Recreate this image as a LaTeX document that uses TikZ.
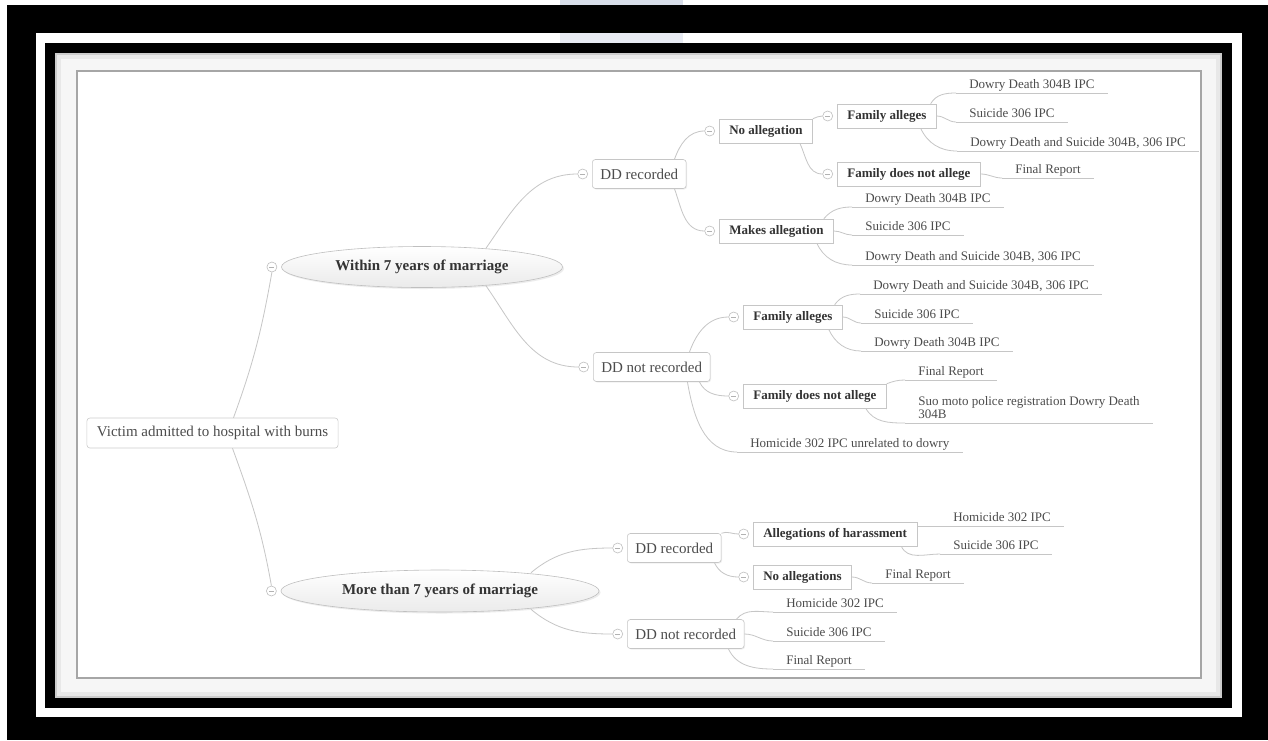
\documentclass[tikz,border=0pt]{standalone}
\usepackage{fontspec}
\setmainfont{Liberation Serif}
\usetikzlibrary{positioning,shapes,shadows}

\definecolor{wmblue}{RGB}{216,222,234}
\tikzstyle{link} = [draw=gray!45, line width=0.8pt]
\tikzstyle{root} = [rectangle, draw=gray!40, fill=white, rounded corners=3pt,
    inner xsep=10pt, minimum height=30pt, text=black!70,
    font=\fontsize{15}{18}\selectfont]
\tikzstyle{oval} = [ellipse, draw=gray!50, top color=white, bottom color=gray!16,
    inner sep=0pt, text=black!80, font=\bfseries\fontsize{15}{18}\selectfont,
    drop shadow={opacity=0.15, shadow xshift=1.5pt, shadow yshift=-1.5pt}]
\tikzstyle{dd} = [rectangle, draw=gray!45, fill=white, rounded corners=3pt, anchor=west,
    inner xsep=8pt, minimum height=29pt, text=black!70,
    font=\fontsize{15}{18}\selectfont,
    drop shadow={opacity=0.12, shadow xshift=1pt, shadow yshift=-1pt}]
\tikzstyle{block} = [rectangle, draw=gray!45, fill=white, anchor=west,
    inner xsep=10pt, minimum height=24pt, text=black!80,
    font=\bfseries\fontsize{13}{16}\selectfont]
\tikzstyle{leaf} = [anchor=south west, inner xsep=13pt, inner ysep=0.5pt, text=black!70,
    font=\fontsize{13}{13}\selectfont,
    execute at begin node=\strut, execute at end node=\strut,
    append after command={(\tikzlastnode.south west) edge[link] (\tikzlastnode.south east)}]
\tikzstyle{knob} = [circle, draw=gray!50, fill=white, minimum size=10pt, inner sep=0pt,
    path picture={\draw[gray!60, line width=0.6pt]
      ([xshift=-2.5pt]path picture bounding box.center) --
      ([xshift=2.5pt]path picture bounding box.center);}]

\begin{document}
\begin{tikzpicture}[x=1pt,y=-1pt,semithick]
  \useasboundingbox (0,0) rectangle (1268,740);

  % frame
  \fill[white] (0,0) rectangle (1268,740);
  \fill[wmblue] (560,0) rectangle (683,43);
  \fill[black] (7,5) rectangle (1268,740);
  \fill[white] (36,33) rectangle (1242,717);
  \fill[wmblue!60] (560,33) rectangle (683,43);
  \fill[black] (45,43) rectangle (1232,708);
  \fill[gray!40] (55,53) rectangle (1222,698);
  \fill[gray!18] (57,55) rectangle (1220,696);
  \fill[gray!7] (61,59) rectangle (1216,692);
  \filldraw[fill=white, draw=gray!70, line width=1.2pt] (77,71) rectangle (1201,678);

  \node[root] (0) at (212.5,433) {Victim admitted to hospital with burns};
  \node[oval, minimum width=281pt, minimum height=41pt] (1) at (422,267) {Within 7 years of marriage};
  \node[oval, minimum width=318pt, minimum height=42pt] (2) at (440,591) {More than 7 years of marriage};

  \node[dd] (3) at (592,174) {DD recorded};
  \node[dd] (4) at (593,367) {DD not recorded};
  \node[dd] (5) at (627,548) {DD recorded};
  \node[dd] (6) at (627,634) {DD not recorded};

  \node[block] (7)  at (719,131) {No allegation};
  \node[block] (8)  at (719,231) {Makes allegation};
  \node[block] (9)  at (837,116) {Family alleges};
  \node[block] (10) at (837,174) {Family does not allege};
  \node[block] (11) at (743,317) {Family alleges};
  \node[block] (12) at (743,396) {Family does not allege};
  \node[block] (13) at (753,534) {Allegations of harassment};
  \node[block] (14) at (753,577) {No allegations};

  \foreach \n in {1,...,14}
    \node[knob, left=4pt of \n] (c\n) {};

  \node[leaf] (l1)  at (956,93)  {Dowry Death 304B IPC};
  \node[leaf] (l2)  at (956,122) {Suicide 306 IPC};
  \node[leaf] (l3)  at (957,151) {Dowry Death and Suicide 304B, 306 IPC};
  \node[leaf] (l4)  at (1002,178) {Final Report};
  \node[leaf] (l5)  at (852,207) {Dowry Death 304B IPC};
  \node[leaf] (l6)  at (852,235) {Suicide 306 IPC};
  \node[leaf] (l7)  at (852,265) {Dowry Death and Suicide 304B, 306 IPC};
  \node[leaf] (l8)  at (860,294) {Dowry Death and Suicide 304B, 306 IPC};
  \node[leaf] (l9)  at (861,323) {Suicide 306 IPC};
  \node[leaf] (l10) at (861,351) {Dowry Death 304B IPC};
  \node[leaf] (l11) at (905,380) {Final Report};
  \node[leaf, align=left] (l12) at (905,423) {Suo moto police registration Dowry Death\\304B};
  \node[leaf] (l13) at (737,452) {Homicide 302 IPC unrelated to dowry};
  \node[leaf] (l14) at (940,526) {Homicide 302 IPC};
  \node[leaf] (l15) at (940,554) {Suicide 306 IPC};
  \node[leaf] (l16) at (872,583) {Final Report};
  \node[leaf] (l17) at (773,612) {Homicide 302 IPC};
  \node[leaf] (l18) at (773,641) {Suicide 306 IPC};
  \node[leaf] (l19) at (773,669) {Final Report};

  \path[every edge/.style=link]
    ([xshift=21pt]0.north) edge[out=70,in=-100] (c1.south)
    ([xshift=20pt]0.south) edge[out=-70,in=100] (c2.north)
    ([xshift=64pt,yshift=-2pt]1.north) edge[out=55,in=180] (c3.west)
    ([xshift=64pt,yshift=2pt]1.south) edge[out=-55,in=180] (c4.west)
    ([xshift=91pt,yshift=-3pt]2.north) edge[out=40,in=180] (c5.west)
    ([xshift=91pt,yshift=3pt]2.south) edge[out=-40,in=180] (c6.west)
    ([xshift=-12pt]3.north east) edge[out=70,in=180] (c7.west)
    ([xshift=-12pt]3.south east) edge[out=-70,in=180] (c8.west)
    (7.north east) edge[out=20,in=180] (c9.west)
    ([xshift=-13pt]7.south east) edge[out=-65,in=180] (c10.west)
    ([xshift=-6pt]9.north east) edge[out=60,in=180] (l1.south west)
    (9.east) edge[out=0,in=180] (l2.south west)
    ([xshift=-16pt]9.south east) edge[out=-65,in=180] (l3.south west)
    (10.east) edge[out=0,in=180] (l4.south west)
    ([xshift=-10pt]8.north east) edge[out=50,in=180] (l5.south west)
    (8.east) edge[out=0,in=180] (l6.south west)
    ([xshift=-17pt]8.south east) edge[out=-65,in=180] (l7.south west)
    ([xshift=-21pt]4.north east) edge[out=70,in=180] (c11.west)
    ([xshift=-11pt]4.south east) edge[out=-65,in=180] (c12.west)
    ([xshift=-23pt]4.south east) edge[out=-80,in=180] (l13.south west)
    ([xshift=-8pt]11.north east) edge[out=55,in=180] (l8.south west)
    (11.east) edge[out=0,in=180] (l9.south west)
    ([xshift=-14pt]11.south east) edge[out=-65,in=180] (l10.south west)
    (12.north east) edge[out=20,in=180] (l11.south west)
    ([xshift=-21pt]12.south east) edge[out=-60,in=180] (l12.south west)
    (5.north east) edge[out=20,in=180] (c13.west)
    ([xshift=-7pt]5.south east) edge[out=-65,in=180] (c14.west)
    ([yshift=8pt]13.east) edge (l14.south west)
    ([xshift=-16pt]13.south east) edge[out=-65,in=180] (l15.south west)
    (14.east) edge[out=0,in=180] (l16.south west)
    ([xshift=-8pt]6.north east) edge[out=50,in=180] (l17.south west)
    (6.east) edge[out=0,in=180] (l18.south west)
    ([xshift=-16pt]6.south east) edge[out=-65,in=180] (l19.south west);
\end{tikzpicture}
\end{document}
